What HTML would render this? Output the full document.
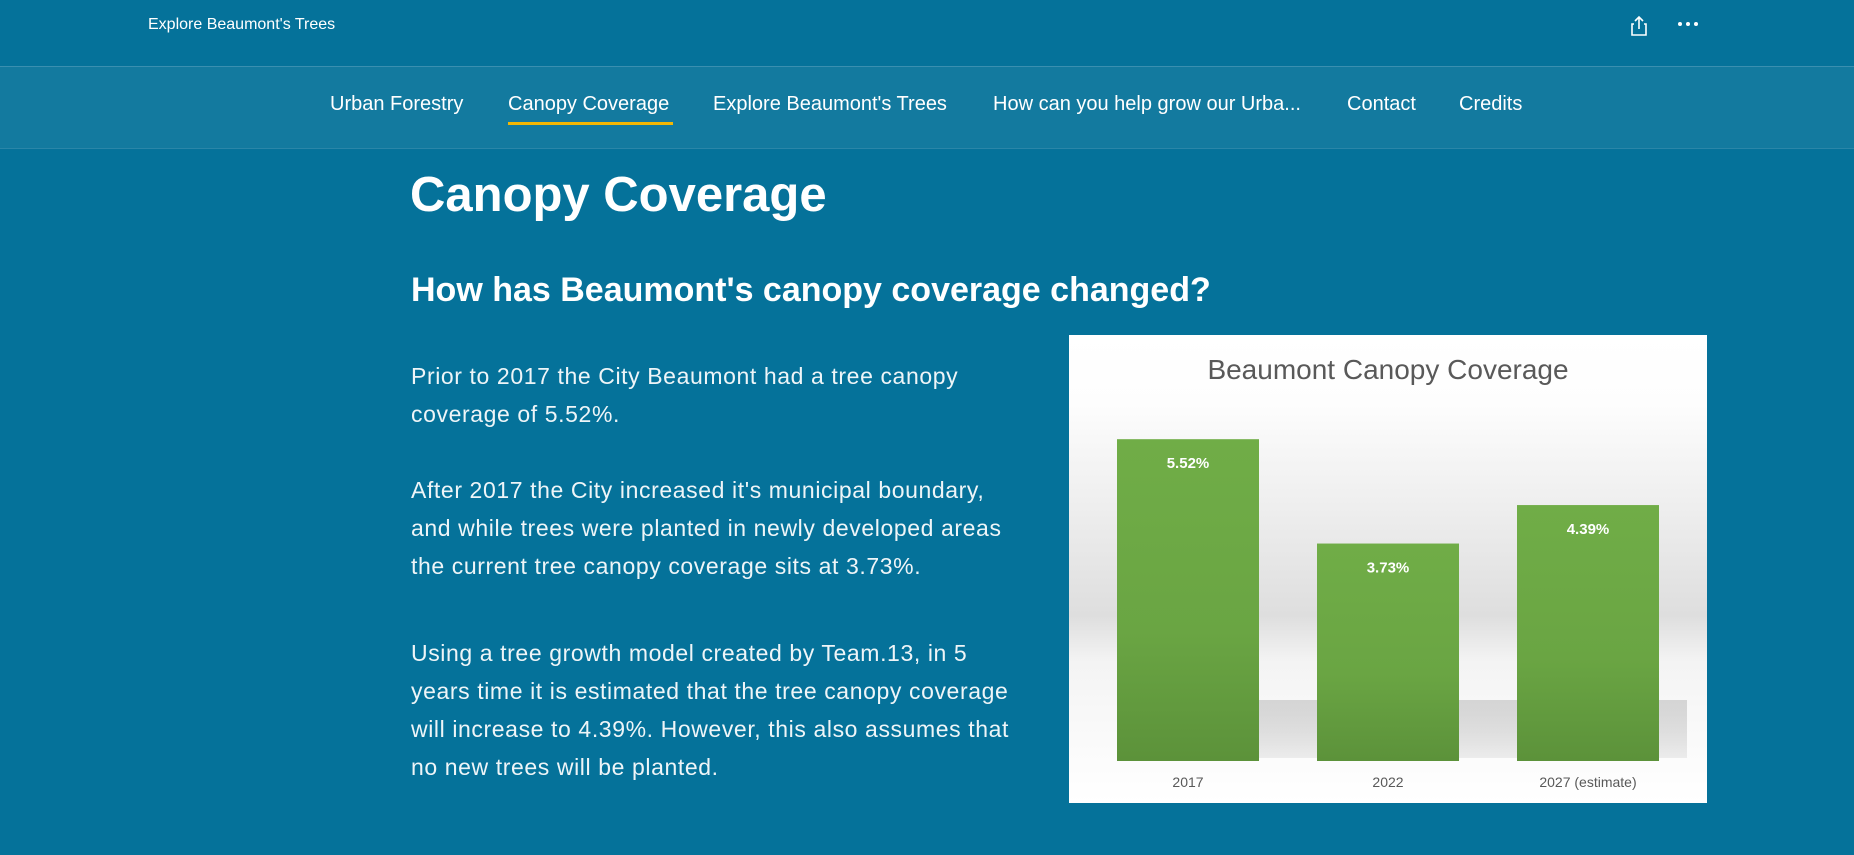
<!DOCTYPE html>
<html><head><meta charset="utf-8"><style>
body{margin:0;width:1854px;height:855px;overflow:hidden;background:#05729a;font-family:"Liberation Sans",sans-serif;color:#fff;position:relative}
.abs{position:absolute}
.nav a{position:absolute;top:93px;font-size:20px;color:#fff;white-space:nowrap}
p{margin:0}
.para{position:absolute;left:411px;font-size:23px;letter-spacing:0.6px;line-height:38px;color:#eef5f8;white-space:nowrap}
</style></head><body>
<div class="abs" style="left:0;top:0;width:1854px;height:66px;background:#05729a;border-bottom:1px solid #3a8fb0"></div>
<div class="abs" style="left:148px;top:16px;font-size:16px">Explore Beaumont's Trees</div>
<svg class="abs" style="left:1630px;top:15px" width="18" height="22"><path d="M4 9H2v11h14V9h-2M9 14V2M5 6l4-4 4 4" fill="none" stroke="#fff" stroke-width="1.6"/></svg>
<svg class="abs" style="left:1677px;top:20px" width="22" height="8"><circle cx="3" cy="4" r="2" fill="#fff"/><circle cx="11" cy="4" r="2" fill="#fff"/><circle cx="19" cy="4" r="2" fill="#fff"/></svg>
<div class="abs nav" style="left:0;top:67px;width:1854px;height:81px;background:#137a9f;border-bottom:1px solid #2a86a8">
</div>
<div class="nav">
<a style="left:330px">Urban Forestry</a>
<a style="left:508px">Canopy Coverage</a>
<a style="left:713px">Explore Beaumont's Trees</a>
<a style="left:993px">How can you help grow our Urba...</a>
<a style="left:1347px">Contact</a>
<a style="left:1459px">Credits</a>
</div>
<div class="abs" style="left:508px;top:122px;width:165px;height:3px;background:#f2b705"></div>
<div class="abs" style="left:410px;top:167px;font-size:49px;font-weight:bold">Canopy Coverage</div>
<div class="abs" style="left:411px;top:271px;font-size:34px;font-weight:bold">How has Beaumont's canopy coverage changed?</div>
<div class="para" style="top:357px">Prior to 2017 the City Beaumont had a tree canopy<br>coverage of 5.52%.</div>
<div class="para" style="top:471px">After 2017 the City increased it's municipal boundary,<br>and while trees were planted in newly developed areas<br>the current tree canopy coverage sits at 3.73%.</div>
<div class="para" style="top:634px">Using a tree growth model created by Team.13, in 5<br>years time it is estimated that the tree canopy coverage<br>will increase to 4.39%. However, this also assumes that<br>no new trees will be planted.</div>
<svg id="chart" class="abs" style="left:1069px;top:335px" width="638" height="468"></svg>
<script>
const categories=["2017","2022","2027 (estimate)"];
const values=[5.52,3.73,4.39];
const labels=["5.52%","3.73%","4.39%"];
const svg=document.getElementById('chart');
const NS="http://www.w3.org/2000/svg";
const y0=426, pxPer=58.3;
function yScale(v){return y0-v*pxPer;}
function xScale(i){return 48+i*200;}
svg.innerHTML='<defs><linearGradient id="bg" x1="0" y1="0" x2="0" y2="1"><stop offset="0" stop-color="#fff"/><stop offset="0.15" stop-color="#fdfdfd"/><stop offset="0.6" stop-color="#dedede"/><stop offset="0.7" stop-color="#f4f4f4"/><stop offset="1" stop-color="#fff"/></linearGradient><linearGradient id="bar" x1="0" y1="0" x2="0" y2="1"><stop offset="0" stop-color="#70ad47"/><stop offset="0.6" stop-color="#6aa543"/><stop offset="1" stop-color="#5c923a"/></linearGradient><linearGradient id="sh" x1="0" y1="0" x2="0" y2="1"><stop offset="0" stop-color="#ccc"/><stop offset="1" stop-color="#bbb" stop-opacity="0.3"/></linearGradient></defs><rect width="638" height="468" fill="url(#bg)"/><polygon points="190,365 618,365 618,423 140,423" fill="url(#sh)" opacity="0.8"/>';
const t=document.createElementNS(NS,'text');


t.setAttribute('x',319);t.setAttribute('y',44);t.setAttribute('text-anchor','middle');
t.setAttribute('font-size','28');t.setAttribute('fill','#595959');t.textContent='Beaumont Canopy Coverage';
svg.appendChild(t);
values.forEach((v,i)=>{
 const r=document.createElementNS(NS,'rect');
 
 
 r.setAttribute('x',xScale(i));r.setAttribute('y',yScale(v));r.setAttribute('width',142);r.setAttribute('height',y0-yScale(v));r.setAttribute('fill','url(#bar)');
 svg.appendChild(r);
 const l=document.createElementNS(NS,'text');
 
 
 l.setAttribute('x',xScale(i)+71);l.setAttribute('y',yScale(v)+29);l.setAttribute('text-anchor','middle');
 l.setAttribute('font-size','15');l.setAttribute('font-weight','bold');l.setAttribute('fill','#fff');l.textContent=labels[i];
 svg.appendChild(l);
 const c=document.createElementNS(NS,'text');
 
 
 c.setAttribute('x',xScale(i)+71);c.setAttribute('y',452);c.setAttribute('text-anchor','middle');
 c.setAttribute('font-size','14');c.setAttribute('fill','#595959');c.textContent=categories[i];
 svg.appendChild(c);
});
</script>
</body></html>
